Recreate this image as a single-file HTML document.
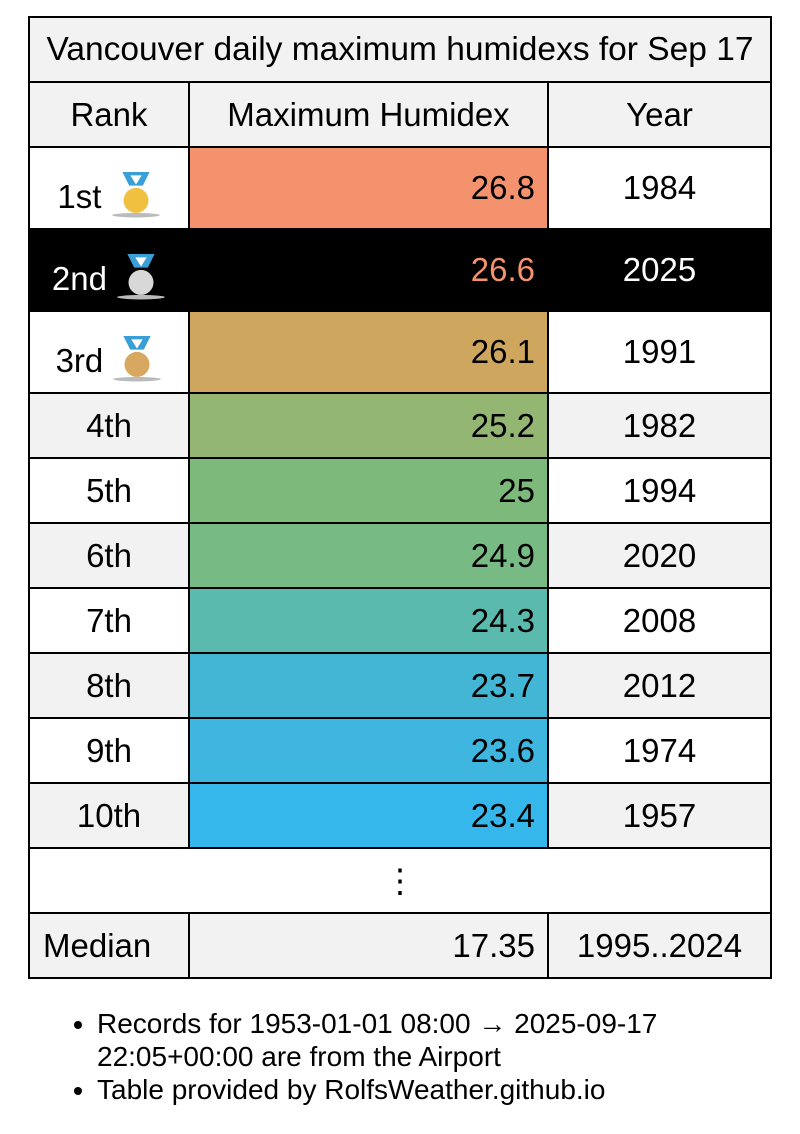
<!DOCTYPE html>
<html><head><meta charset="utf-8"><style>
body{margin:0;background:#fff;width:800px;height:1134px;position:relative;font-family:"Liberation Sans",sans-serif;color:#000;overflow:hidden}
.c{position:absolute;box-sizing:border-box;border:2px solid #000;display:flex;align-items:center;font-size:33px;margin:-1px 0 0 -1px;white-space:nowrap}
.l{justify-content:center}.r{justify-content:flex-end;padding-right:12px}
.g{background:#f2f2f2}
ul{position:absolute;left:57px;top:1007px;margin:0;padding:0 0 0 40px;font-size:28px;line-height:33px;width:640px}
</style></head><body>
<div class="c l g" style="left:29px;top:17px;width:744px;height:67px;font-size:33.5px">Vancouver daily maximum humidexs for Sep 17</div>
<div class="c l g" style="left:29px;top:82px;width:162px;height:67px">Rank</div>
<div class="c l g" style="left:189px;top:82px;width:361px;height:67px">Maximum Humidex</div>
<div class="c l g" style="left:548px;top:82px;width:225px;height:67px">Year</div>

<svg width="0" height="0" style="position:absolute"><defs>
<g id="m"><path d="M3 0h24l-6 12h-12z" fill="#3a9fd6"/><path d="M10 3h10l-5 8z" fill="#fff"/><ellipse cx="15" cy="38" rx="21" ry="2" fill="#bbb"/></g>
</defs></svg>

<div class="c l" style="left:29px;top:147px;width:162px;height:84px;padding-top:18px">1st&nbsp;<svg width="50" height="52" viewBox="-7 0 44 44"><use href="#m"/><circle cx="15" cy="25" r="11" fill="#f0c040"/></svg></div>
<div class="c r" style="left:189px;top:147px;width:361px;height:84px;background:#f5926e">26.8</div>
<div class="c l" style="left:548px;top:147px;width:225px;height:84px">1984</div>

<div class="c l" style="left:29px;top:229px;width:162px;height:84px;background:#000;color:#fff;padding-top:18px">2nd&nbsp;<svg width="50" height="52" viewBox="-7 0 44 44"><use href="#m"/><circle cx="15" cy="25" r="11" fill="#d8d8d8"/></svg></div>
<div class="c r" style="left:189px;top:229px;width:361px;height:84px;background:#000;color:#f5926e">26.6</div>
<div class="c l" style="left:548px;top:229px;width:225px;height:84px;background:#000;color:#fff">2025</div>

<div class="c l" style="left:29px;top:311px;width:162px;height:84px;padding-top:18px">3rd&nbsp;<svg width="50" height="52" viewBox="-7 0 44 44"><use href="#m"/><circle cx="15" cy="25" r="11" fill="#d9a860"/></svg></div>
<div class="c r" style="left:189px;top:311px;width:361px;height:84px;background:#cfa65e">26.1</div>
<div class="c l" style="left:548px;top:311px;width:225px;height:84px">1991</div>

<div class="c l g" style="left:29px;top:393px;width:162px;height:67px">4th</div>
<div class="c r" style="left:189px;top:393px;width:361px;height:67px;background:#94b673">25.2</div>
<div class="c l g" style="left:548px;top:393px;width:225px;height:67px">1982</div>

<div class="c l" style="left:29px;top:458px;width:162px;height:67px">5th</div>
<div class="c r" style="left:189px;top:458px;width:361px;height:67px;background:#7eb97c">25</div>
<div class="c l" style="left:548px;top:458px;width:225px;height:67px">1994</div>

<div class="c l g" style="left:29px;top:523px;width:162px;height:67px">6th</div>
<div class="c r" style="left:189px;top:523px;width:361px;height:67px;background:#78ba84">24.9</div>
<div class="c l g" style="left:548px;top:523px;width:225px;height:67px">2020</div>

<div class="c l" style="left:29px;top:588px;width:162px;height:67px">7th</div>
<div class="c r" style="left:189px;top:588px;width:361px;height:67px;background:#5bbaae">24.3</div>
<div class="c l" style="left:548px;top:588px;width:225px;height:67px">2008</div>

<div class="c l g" style="left:29px;top:653px;width:162px;height:67px">8th</div>
<div class="c r" style="left:189px;top:653px;width:361px;height:67px;background:#43b5d5">23.7</div>
<div class="c l g" style="left:548px;top:653px;width:225px;height:67px">2012</div>

<div class="c l" style="left:29px;top:718px;width:162px;height:67px">9th</div>
<div class="c r" style="left:189px;top:718px;width:361px;height:67px;background:#3fb6e0">23.6</div>
<div class="c l" style="left:548px;top:718px;width:225px;height:67px">1974</div>

<div class="c l g" style="left:29px;top:783px;width:162px;height:67px">10th</div>
<div class="c r" style="left:189px;top:783px;width:361px;height:67px;background:#36b7eb">23.4</div>
<div class="c l g" style="left:548px;top:783px;width:225px;height:67px">1957</div>

<div class="c l" style="left:29px;top:848px;width:744px;height:67px">⋮</div>

<div class="c g" style="left:29px;top:913px;width:162px;height:67px;padding-left:13px">Median</div>
<div class="c r g" style="left:189px;top:913px;width:361px;height:67px">17.35</div>
<div class="c l g" style="left:548px;top:913px;width:225px;height:67px">1995..2024</div>

<ul>
<li>Records for 1953-01-01 08:00 → 2025-09-17 22:05+00:00 are from the Airport</li>
<li>Table provided by RolfsWeather.github.io</li>
</ul>
</body></html>
